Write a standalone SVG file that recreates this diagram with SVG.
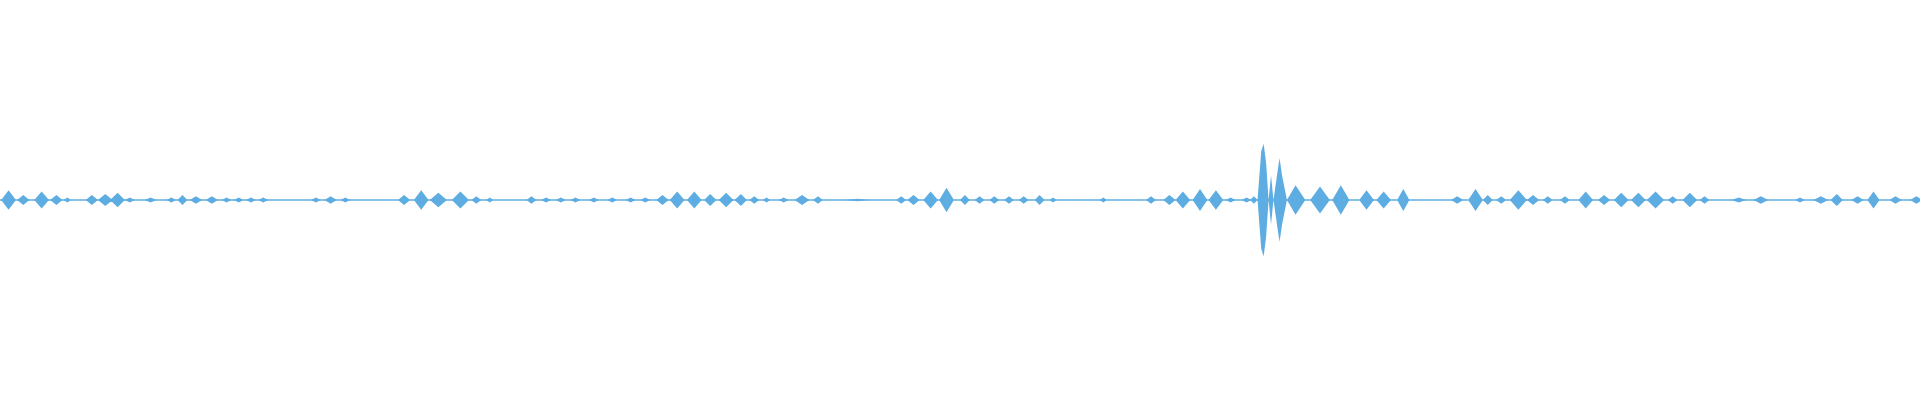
<svg xmlns="http://www.w3.org/2000/svg" width="1920" height="400" viewBox="0 0 1920 400">
<style>.w{fill:#5dade2}</style>
<rect width="1920" height="400" fill="#fff"/>
<g id="waveform" transform="translate(0,200) scale(1.2245)">
<rect class="w" x="0" y="-0.6" width="1568" height="1.2"/>
<path class="w" d="M1 0L7 -8L13 0L7 8Z M14 0L19 -4L24 0L19 4Z M28 0L34 -7L40 0L34 7Z M41 0L46 -4L51 0L46 4Z M52 0L55 -2L58 0L55 2Z M70 0L75 -4L80 0L75 4Z M80 0L86 -5L92 0L86 5Z M90 0L96 -6L102 0L96 6Z M102 0L106 -2L110 0L106 2Z M118 0L123 -2L128 0L123 2Z M136 0L140 -2L144 0L140 2Z M145 0L149 -4L153 0L149 4Z M155 0L160 -3L165 0L160 3Z M168 0L173 -3L178 0L173 3Z M181 0L185 -2L189 0L185 2Z M191 0L195 -2L199 0L195 2Z M201 0L205 -2L209 0L205 2Z M211 0L215 -2L219 0L215 2Z M254 0L258 -2L262 0L258 2Z M265 0L270 -3L275 0L270 3Z M278 0L282 -2L286 0L282 2Z M325 0L330 -4L335 0L330 4Z M338 0L344 -8L350 0L344 8Z M351 0L358 -6L365 0L358 6Z M369 0L376 -7L383 0L376 7Z M385 0L389 -3L393 0L389 3Z M397 0L400 -2L403 0L400 2Z M430 0L434 -3L438 0L434 3Z M442 0L446 -2L450 0L446 2Z M454 0L458 -2L462 0L458 2Z M466 0L470 -2L474 0L470 2Z M481 0L485 -2L489 0L485 2Z M496 0L500 -2L504 0L500 2Z M511 0L515 -2L519 0L515 2Z M523 0L527 -2L531 0L527 2Z M536 0L541 -4L546 0L541 4Z M547 0L553 -7L559 0L553 7Z M561 0L567 -7L573 0L567 7Z M575 0L580 -5L585 0L580 5Z M587 0L593 -6L599 0L593 6Z M600 0L605 -5L610 0L605 5Z M612 0L616 -3L620 0L616 3Z M623 0L626 -2L629 0L626 2Z M636 0L640 -2L644 0L640 2Z M649 0L655 -4L661 0L655 4Z M664 0L668 -3L672 0L668 3Z M690 0L700 -1L710 0L700 1Z M732 0L736 -3L740 0L736 3Z M741 0L746 -4L751 0L746 4Z M754 0L760 -7L766 0L760 7Z M767 0L773 -10L779 0L773 10Z M784 0L788 -4L792 0L788 4Z M796 0L800 -3L804 0L800 3Z M808 0L812 -3L816 0L812 3Z M820 0L824 -3L828 0L824 3Z M832 0L836 -3L840 0L836 3Z M845 0L849 -4L853 0L849 4Z M857 0L860 -2L863 0L860 2Z M898 0L901 -2L904 0L901 2Z M936 0L940 -3L944 0L940 3Z M950 0L955 -4L960 0L955 4Z M960 0L966 -7L972 0L966 7Z M974 0L980 -9L986 0L980 9Z M987 0L993 -8L999 0L993 8Z M1001 0L1005 -2L1009 0L1005 2Z M1014 0L1018 -2L1022 0L1018 2Z M1021 0L1024 -3L1027 0L1024 3Z M1027 0L1030 -40L1032 -46L1034 -30L1036 0L1034 30L1032 46L1030 40Z M1036 0L1038 -20L1040 0L1038 20Z M1040 0L1044 -28L1045 -34L1047 -20L1051 0L1047 20L1045 34L1044 28Z M1051 0L1058 -12L1066 0L1058 12Z M1070 0L1078 -11L1086 0L1078 11Z M1088 0L1095 -12L1102 0L1095 12Z M1110 0L1116 -8L1122 0L1116 8Z M1124 0L1130 -7L1136 0L1130 7Z M1141 0L1146 -9L1151 0L1146 9Z M1185 0L1190 -3L1195 0L1190 3Z M1199 0L1205 -9L1211 0L1205 9Z M1211 0L1215 -4L1219 0L1215 4Z M1222 0L1226 -3L1230 0L1226 3Z M1233 0L1240 -8L1247 0L1240 8Z M1247 0L1252 -4L1257 0L1252 4Z M1260 0L1264 -3L1268 0L1264 3Z M1274 0L1278 -3L1282 0L1278 3Z M1289 0L1295 -7L1301 0L1295 7Z M1305 0L1310 -4L1315 0L1310 4Z M1318 0L1324 -6L1330 0L1324 6Z M1332 0L1338 -6L1344 0L1338 6Z M1345 0L1352 -7L1359 0L1352 7Z M1362 0L1366 -3L1370 0L1366 3Z M1374 0L1380 -6L1386 0L1380 6Z M1388 0L1392 -3L1396 0L1392 3Z M1414 0L1420 -2L1426 0L1420 2Z M1432 0L1438 -3L1444 0L1438 3Z M1466 0L1470 -2L1474 0L1470 2Z M1481 0L1487 -3L1493 0L1487 3Z M1495 0L1500 -5L1505 0L1500 5Z M1512 0L1517 -3L1522 0L1517 3Z M1525 0L1530 -7L1535 0L1530 7Z M1543 0L1548 -3L1553 0L1548 3Z M1560 0L1565 -3L1570 0L1565 3Z"/>
</g>
</svg>
